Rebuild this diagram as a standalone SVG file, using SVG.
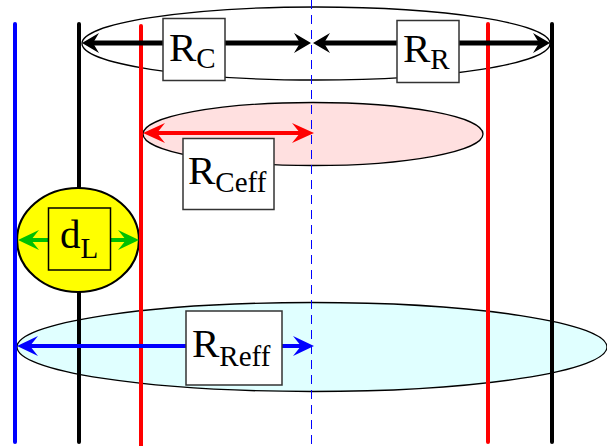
<svg xmlns="http://www.w3.org/2000/svg" width="607" height="446" viewBox="0 0 607 446">
<style>
.lbl{fill:#fff;stroke:#333;stroke-width:1.5}
.t{font-family:"Liberation Serif","Times New Roman",serif;font-size:41px;fill:#000}
.s{font-size:29px}
.vl{stroke-width:4;stroke-linecap:round;fill:none}
.ell{stroke:#000;stroke-width:1.3}
</style>
<defs>
<marker id="hk" markerUnits="userSpaceOnUse" markerWidth="40" markerHeight="40" viewBox="-30 -20 40 40" refX="-8" refY="0" orient="auto-start-reverse" overflow="visible"><path d="M0,0 L-17,-10 L-11,0 L-17,10 Z" fill="#000"/></marker>
<marker id="hr" markerUnits="userSpaceOnUse" markerWidth="40" markerHeight="40" viewBox="-30 -20 40 40" refX="-8" refY="0" orient="auto-start-reverse" overflow="visible"><path d="M0,0 L-22,-10 L-14,0 L-22,10 Z" fill="#f00"/></marker>
<marker id="hg" markerUnits="userSpaceOnUse" markerWidth="40" markerHeight="40" viewBox="-30 -20 40 40" refX="-8" refY="0" orient="auto-start-reverse" overflow="visible"><path d="M0,0 L-21,-10 L-13,0 L-21,10 Z" fill="#00c000"/></marker>
<marker id="hb" markerUnits="userSpaceOnUse" markerWidth="40" markerHeight="40" viewBox="-30 -20 40 40" refX="-8" refY="0" orient="auto-start-reverse" overflow="visible"><path d="M0,0 L-21,-10 L-13,0 L-21,10 Z" fill="#00f"/></marker>
</defs>

<g id="ellipses">
<ellipse id="ell-top" class="ell" cx="316" cy="43.5" rx="234" ry="36.5" fill="none"/>
<ellipse id="ell-pink" class="ell" cx="313" cy="134" rx="170" ry="31.5" fill="#ffe0e0"/>
<ellipse id="ell-cyan" class="ell" cx="312" cy="347" rx="295" ry="44.5" fill="#e0ffff"/>
</g>

<line id="axis" x1="311.5" y1="0" x2="311.5" y2="446" stroke="#00f" stroke-width="1" stroke-dasharray="9,6"/>

<g id="lines">
<line id="line-black-left" class="vl" x1="79" y1="24" x2="79" y2="442" stroke="#000"/>
</g>

<g id="node-dL-ellipse">
<ellipse cx="78" cy="240" rx="61" ry="52" fill="#ff0" stroke="#000" stroke-width="2.2"/>
</g>

<g id="lines2">
<line id="line-blue" class="vl" x1="15" y1="24" x2="15" y2="442" stroke="#00f"/>
<line id="line-red-left" class="vl" x1="141" y1="26" x2="141" y2="446" stroke="#f00"/>
<line id="line-red-right" class="vl" x1="488" y1="24" x2="488" y2="442" stroke="#f00"/>
<line id="line-black-right" class="vl" x1="552" y1="24" x2="552" y2="442" stroke="#000"/>
</g>

<g id="connectors">
<line x1="90" y1="43" x2="303" y2="43" stroke="#000" stroke-width="5" marker-start="url(#hk)" marker-end="url(#hk)"/>
<line x1="321" y1="43" x2="542" y2="43" stroke="#000" stroke-width="5" marker-start="url(#hk)" marker-end="url(#hk)"/>
<line x1="151" y1="133" x2="306" y2="133" stroke="#f00" stroke-width="4" marker-start="url(#hr)" marker-end="url(#hr)"/>
<line x1="26" y1="240" x2="131" y2="240" stroke="#00c000" stroke-width="4" marker-start="url(#hg)" marker-end="url(#hg)"/>
<line x1="25" y1="346" x2="306" y2="346" stroke="#00f" stroke-width="4" marker-start="url(#hb)" marker-end="url(#hb)"/>
</g>

<g id="node-RC">
<rect class="lbl" x="163" y="18.5" width="62" height="62"/>
<text class="t" x="169" y="61">R<tspan class="s" dy="7">C</tspan></text>
</g>
<g id="node-RR">
<rect class="lbl" x="397" y="20.5" width="62" height="62"/>
<text class="t" x="403" y="62">R<tspan class="s" dy="7">R</tspan></text>
</g>
<g id="node-RCeff">
<rect class="lbl" x="183" y="138.5" width="91" height="71"/>
<text class="t" x="188" y="184">R<tspan class="s" dy="8">Ceff</tspan></text>
</g>
<g id="node-dL">
<rect x="48.5" y="208" width="62" height="62" fill="#ff0" stroke="#000" stroke-width="1.5"/>
<text class="t" x="60" y="248">d<tspan class="s" dy="10">L</tspan></text>
</g>
<g id="node-RReff">
<rect class="lbl" x="186" y="311" width="96" height="74"/>
<text class="t" x="192" y="357">R<tspan class="s" dy="9">Reff</tspan></text>
</g>
</svg>
